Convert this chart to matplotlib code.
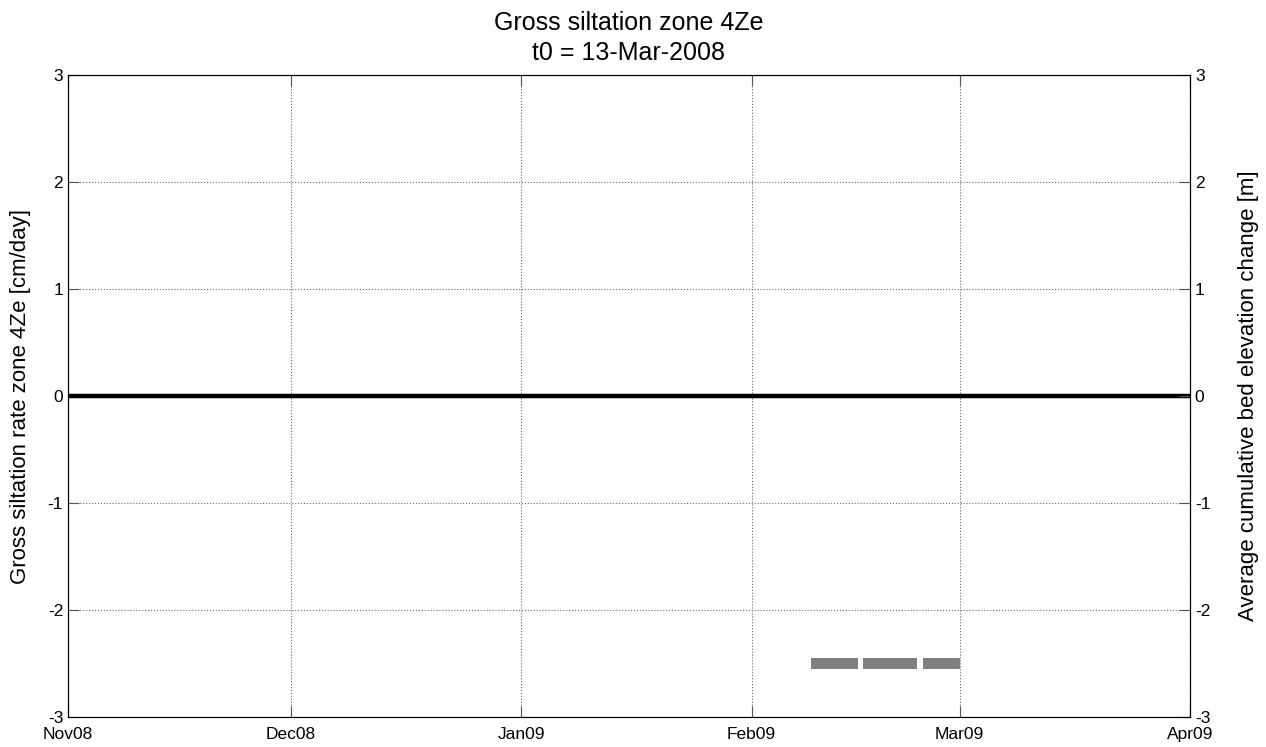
import matplotlib
matplotlib.use("Agg")
import matplotlib.pyplot as plt
import matplotlib.dates as mdates
from datetime import datetime

plt.rcParams['font.family'] = ['Liberation Sans', 'DejaVu Sans']
plt.rcParams['axes.unicode_minus'] = False

# gross siltation rate (cm/day) over the period
rate_dates = [datetime(2008, 11, 1), datetime(2009, 4, 1)]
rate_values = [0.0, 0.0]

# cumulative bed elevation change bars (m)
bar_starts = [datetime(2009, 2, 9), datetime(2009, 2, 16), datetime(2009, 2, 24)]
bar_ends = [datetime(2009, 2, 15, 7), datetime(2009, 2, 23, 5), datetime(2009, 3, 1)]
bar_level = -2.5

month_ticks = [datetime(2008, 11, 1), datetime(2008, 12, 1), datetime(2009, 1, 1),
               datetime(2009, 2, 1), datetime(2009, 3, 1), datetime(2009, 4, 1)]
y_ticks = [-3, -2, -1, 0, 1, 2, 3]

fig = plt.figure(figsize=(12.66, 7.47), dpi=100)
fig.subplots_adjust(left=68/1266, right=1190/1266, bottom=1-717/747, top=1-75/747)
ax = fig.add_subplot(111)
ax2 = ax.twinx()

ax.plot(rate_dates, rate_values, color='black', lw=3.2, zorder=3)

starts = mdates.date2num(bar_starts)
ends = mdates.date2num(bar_ends)
ax2.broken_barh([(s, e - s) for s, e in zip(starts, ends)],
                (bar_level - 0.056, 0.112), facecolors='#808080', edgecolor='none')

for a in (ax, ax2):
    a.set_xlim(month_ticks[0], month_ticks[-1])
    a.set_ylim(-3, 3)
    a.set_yticks(y_ticks)
    a.tick_params(direction='in', length=8, width=0.8, labelsize=12.5, color='#555555')
    for sp in a.spines.values():
        sp.set_linewidth(0.8)

ax.set_xticks(month_ticks)
ax.xaxis.set_major_formatter(mdates.DateFormatter('%b%y'))
ax.tick_params(axis='x', top=True, pad=7)
ax.grid(True, linestyle=':', color='#666666', linewidth=0.8)

ax.set_ylabel('Gross siltation rate zone 4Ze [cm/day]', fontsize=16, labelpad=12)
ax2.set_ylabel('Average cumulative bed elevation change [m]', fontsize=16, labelpad=20)
ax.set_title('Gross siltation zone 4Ze\nt0 = 13-Mar-2008', fontsize=18, pad=11, linespacing=1.3)

plt.savefig('out.png', dpi=100)
